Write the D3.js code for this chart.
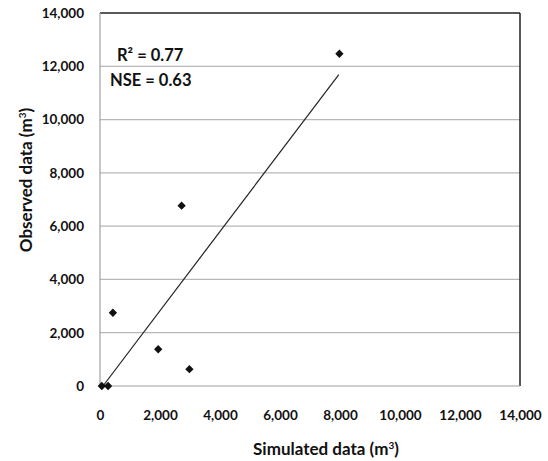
<!DOCTYPE html>
<html>
<head>
  <meta charset="utf-8">
  <script src="https://d3js.org/d3.v7.min.js"></script>
  <style>
    html, body { margin:0; padding:0; background:white; }
    text { font-family: Lato, "Open Sans", sans-serif; font-weight: bold; fill: #111; }
  </style>
</head>
<body>
<div class="chart"></div>
<script>
  // observed vs simulated values (m3)
  var simulated = [60, 270, 430, 1940, 2720, 2980, 7980];
  var observed  = [0, 0, 2750, 1380, 6770, 630, 12470];

  // trendline end points as drawn in the figure
  var trendX = [100, 7960];
  var trendY = [0, 11690];

  var xTicks = [0, 2000, 4000, 6000, 8000, 10000, 12000, 14000];
  var yTicks = [0, 2000, 4000, 6000, 8000, 10000, 12000, 14000];

  var stats = ["R\u00B2 = 0.77", "NSE = 0.63"];

  var W = 548, H = 461;
  var plotL = 100, plotR = 520, plotT = 13, plotB = 386;

  var svg = d3.select("div.chart").append("svg")
      .attr("width", W)
      .attr("height", H);

  var x = d3.scaleLinear().domain([0, 14000]).range([plotL, plotR]);
  var y = d3.scaleLinear().domain([0, 14000]).range([plotB, plotT]);
  var fmt = d3.format(",");

  // gridlines
  svg.append("g").selectAll("line")
    .data(yTicks.slice(1, -1))
    .enter().append("line")
      .attr("x1", plotL).attr("x2", plotR)
      .attr("y1", function(d) { return y(d); })
      .attr("y2", function(d) { return y(d); })
      .attr("stroke", "#b8b8b8")
      .attr("stroke-width", 1.2);

  // plot border
  svg.append("line").attr("x1", plotL).attr("x2", plotR).attr("y1", plotT).attr("y2", plotT)
    .attr("stroke", "#222").attr("stroke-width", 1.5);
  svg.append("line").attr("x1", plotR).attr("x2", plotR).attr("y1", plotT).attr("y2", plotB)
    .attr("stroke", "#222").attr("stroke-width", 1.5);
  svg.append("line").attr("x1", plotL).attr("x2", plotL).attr("y1", plotT).attr("y2", plotB)
    .attr("stroke", "#a0a0a0").attr("stroke-width", 1.2);
  svg.append("line").attr("x1", plotL).attr("x2", plotR).attr("y1", plotB).attr("y2", plotB)
    .attr("stroke", "#a0a0a0").attr("stroke-width", 1.2);

  // axes (labels only)
  var xAxis = svg.append("g")
      .attr("transform", "translate(0," + (plotB + 22) + ")")
      .call(d3.axisBottom(x).tickValues(xTicks).tickFormat(fmt).tickSize(0));
  xAxis.select(".domain").remove();
  xAxis.selectAll("text").style("font-size", "13.5px").attr("dy", "0.7em");

  var yAxis = svg.append("g")
      .attr("transform", "translate(" + (plotL - 16) + ",0)")
      .call(d3.axisLeft(y).tickValues(yTicks).tickFormat(fmt).tickSize(0));
  yAxis.select(".domain").remove();
  yAxis.selectAll("text").style("font-size", "13.5px").attr("x", 0);

  // trendline
  var line = d3.line()
    .x(function(d) { return x(d[0]); })
    .y(function(d) { return y(d[1]); });
  svg.append("path")
    .datum(d3.zip(trendX, trendY))
    .attr("d", line)
    .attr("fill", "none")
    .attr("stroke", "#222")
    .attr("stroke-width", 1.2);

  // points
  svg.append("g").selectAll("path")
    .data(d3.zip(simulated, observed))
    .enter().append("path")
      .attr("d", d3.symbol().type(d3.symbolDiamond2).size(44))
      .attr("transform", function(d) { return "translate(" + x(d[0]) + "," + y(d[1]) + ")"; })
      .attr("fill", "#111");

  // statistics
  svg.append("text").attr("x", 117).attr("y", 61).style("font-size", "16.5px").text(stats[0]);
  svg.append("text").attr("x", 110).attr("y", 86).style("font-size", "16.5px").text(stats[1]);

  // axis titles
  var xt = svg.append("text")
      .attr("x", 326).attr("y", 455)
      .attr("text-anchor", "middle")
      .style("font-size", "17px");
  xt.append("tspan").text("Simulated data (m");
  xt.append("tspan").text("3").attr("dy", "-6").style("font-size", "10px");
  xt.append("tspan").text(")").attr("dy", "6");

  var yt = svg.append("text")
      .attr("transform", "translate(32,180) rotate(-90)")
      .attr("text-anchor", "middle")
      .style("font-size", "17px");
  yt.append("tspan").text("Observed data (m");
  yt.append("tspan").text("3").attr("dy", "-6").style("font-size", "10px");
  yt.append("tspan").text(")").attr("dy", "6");
</script>
</body>
</html>
